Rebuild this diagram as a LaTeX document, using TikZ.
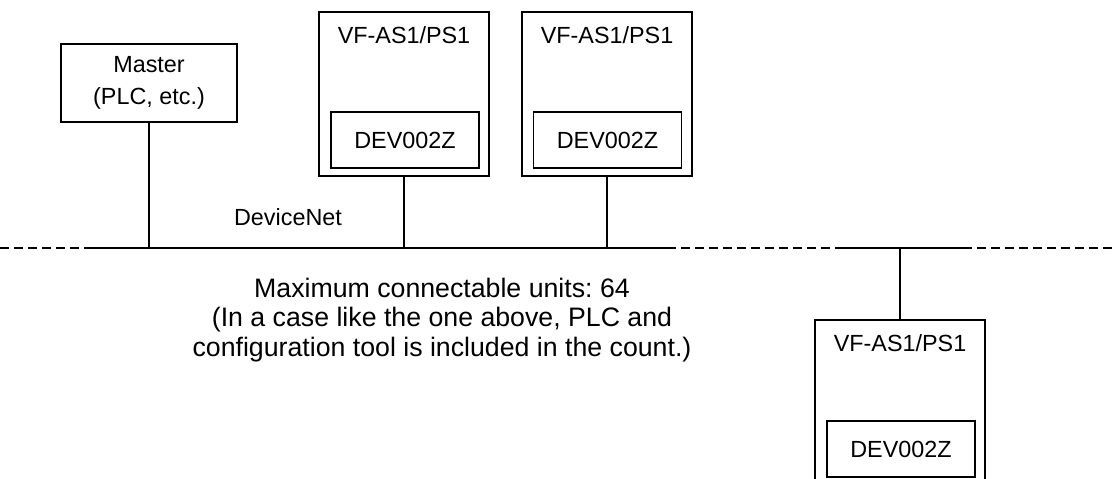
\documentclass[tikz,border=0pt]{standalone}
\usepackage{fontspec}
\setmainfont{Liberation Sans}
\usetikzlibrary{positioning}
\frenchspacing

\tikzset{
  masterbox/.style={draw,rectangle,minimum width=3.52cm,minimum height=1.56cm,
    align=center,inner sep=0pt},
  invbox/.style={draw,rectangle,minimum width=3.4cm,minimum height=3.28cm},
  devbox/.style={draw,rectangle,minimum width=2.96cm,minimum height=1.12cm},
  title/.style={inner sep=0pt,anchor=north},
  busdash/.style={dash pattern=on 0.18cm off 0.1cm},
  note/.style={align=center,inner sep=0pt,font=\fontsize{15.2}{16.7}\selectfont}
}

\begin{document}
\begin{tikzpicture}[x=0.02cm,y=-0.02cm,line width=1pt,
    nodes={font=\fontsize{13.3}{18}\selectfont}]
    \useasboundingbox (0,0) rectangle (1115,479);
    \clip (0,0) rectangle (1115,479);

    % bus
    \coordinate (b0) at (0,248);
    \coordinate (b1) at (93,248);
    \coordinate (b2) at (667,248);
    \coordinate (b3) at (842,248);
    \coordinate (b4) at (963,248);
    \coordinate (b5) at (1115,248);
    \draw[busdash] (b0) -- (b1);
    \draw (b1) -- (b2);
    \draw[busdash] (b2) -- (b3);
    \draw (b3) -- (b4);
    \draw[busdash] (b4) -- (b5);

    % master
    \node[masterbox] (master) at (149,83) {Master\\(PLC, etc.)};
    \draw (master.south) -- (master.south |- b0);

    % inverters
    \node[invbox] (inv1) at (404,94) {};
    \node[title,below=0.3cm of inv1.north] (t1) {VF-AS1/PS1};
    \node[devbox] (dev1) at (405,140) {DEV002Z};
    \draw (inv1.south) -- (inv1.south |- b0);

    \node[invbox] (inv2) at (607,94) {};
    \node[title,below=0.3cm of inv2.north] (t2) {VF-AS1/PS1};
    \node[devbox] (dev2) at (607.5,140) {DEV002Z};
    \draw (inv2.south) -- (inv2.south |- b0);

    \node[invbox] (inv3) at (900,402) {};
    \node[title,below=0.3cm of inv3.north] (t3) {VF-AS1/PS1};
    \node[devbox] (dev3) at (901,449) {DEV002Z};
    \draw (inv3.north) -- (inv3.north |- b0);

    \node (net) at (288,217) {DeviceNet};
    \node[note] (count) at (442,320) {Maximum connectable units: 64\\
      (In a case like the one above, PLC and\\
      configuration tool is included in the count.)};
\end{tikzpicture}
\end{document}
